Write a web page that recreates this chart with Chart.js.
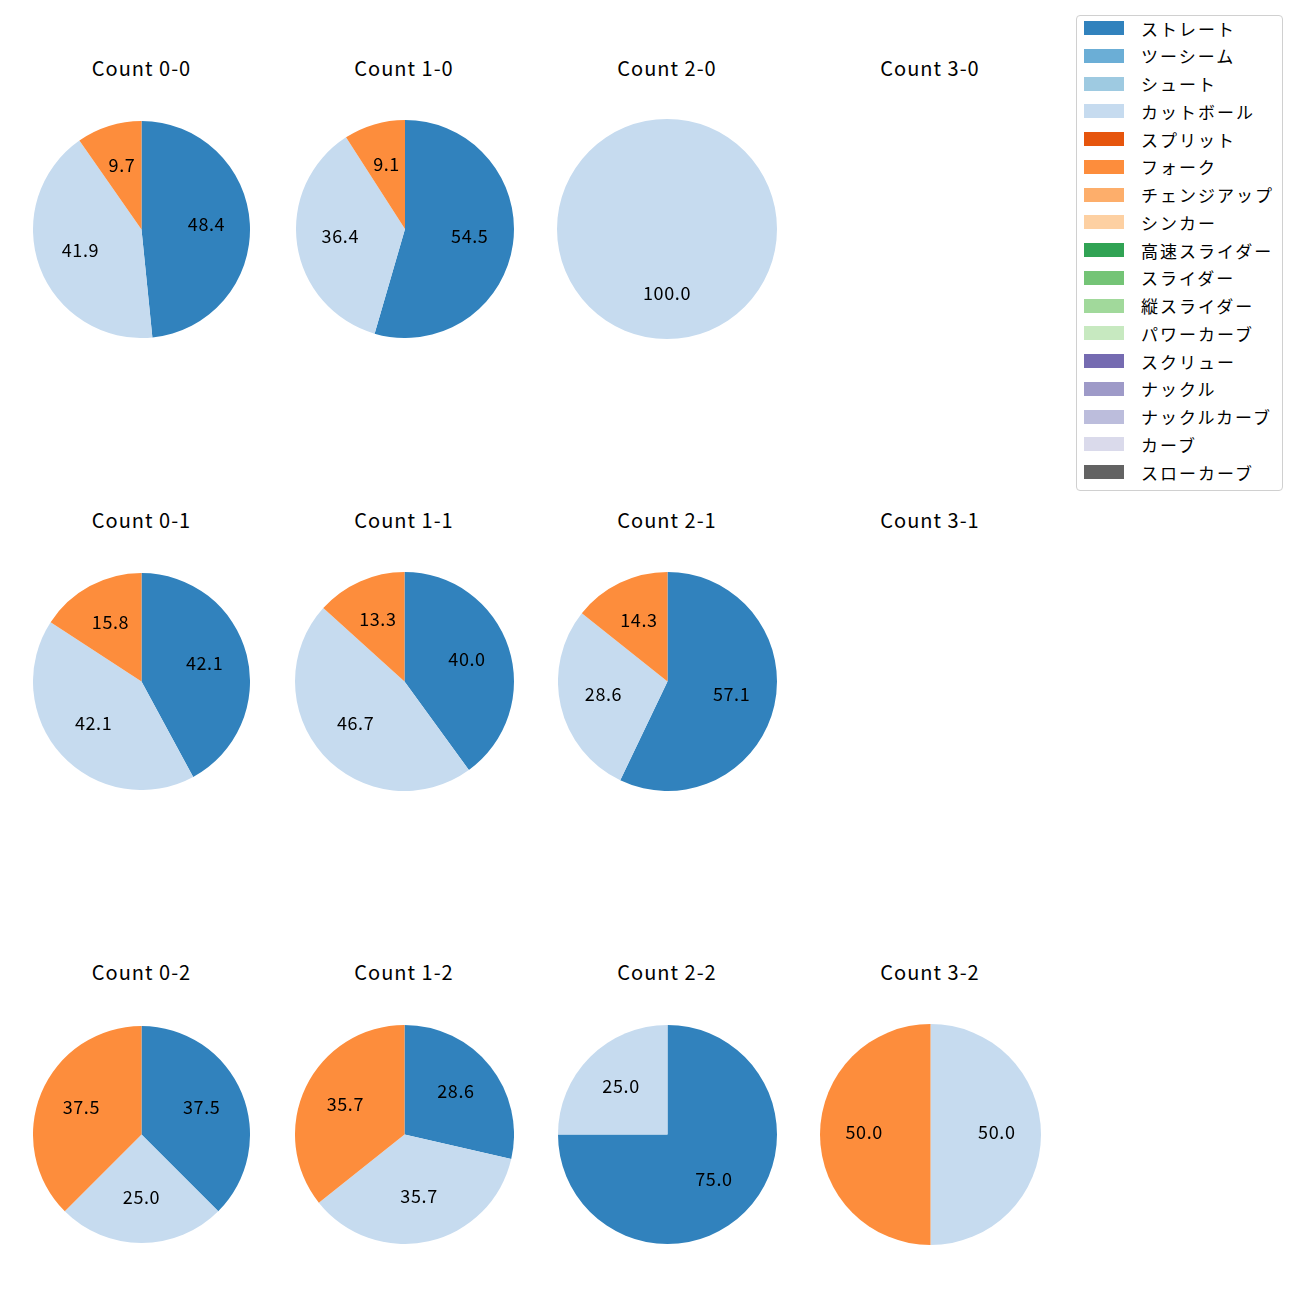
<!DOCTYPE html>
<html>
<head>
<meta charset="utf-8">
<script src="https://cdn.jsdelivr.net/npm/chart.js@4"></script>
<style>
  body { margin: 0; background: #fff; font-family: "Noto Sans CJK JP", "Noto Sans", sans-serif; }
  #stage { position: relative; width: 1300px; height: 1300px; }
  .ttl { position: absolute; font-size: 20px; letter-spacing: 1px; color: #000; transform: translate(-50%, -50%); white-space: nowrap; }
  canvas.pie { position: absolute; }
  #legend { position: absolute; left: 1076px; top: 15px; width: 205px; height: 474px; border: 1px solid #d0d0d0; border-radius: 4px; }
  .row { position: absolute; left: 7px; height: 20px; display: flex; align-items: center; }
  .sw { width: 40px; height: 14px; margin-right: 17px; }
  .lab { font-size: 17px; letter-spacing: 2px; color: #000; white-space: nowrap; }
</style>
</head>
<body>
<div id="stage"><div id="legend"></div></div>
<script>
// pitch types and colours (tab20c)
var pitchTypes = ['ストレート','ツーシーム','シュート','カットボール','スプリット','フォーク','チェンジアップ','シンカー',
  '高速スライダー','スライダー','縦スライダー','パワーカーブ','スクリュー','ナックル','ナックルカーブ','カーブ','スローカーブ'];
var pitchColors = ['#3182bd','#6baed6','#9ecae1','#c6dbef','#e6550d','#fd8d3c','#fdae6b','#fdd0a2',
  '#31a354','#74c476','#a1d99b','#c7e9c0','#756bb1','#9e9ac8','#bcbddc','#dadaeb','#636363'];

// counts, row by row
var countLabels = ['0-0','1-0','2-0','3-0','0-1','1-1','2-1','3-1','0-2','1-2','2-2','3-2'];

// percentages per count (null = no pitches)
var straight = [48.4, 54.5, 0, null, 42.1, 40.0, 57.1, null, 37.5, 28.6, 75.0, 0];
var cutball  = [41.9, 36.4, 100.0, null, 42.1, 46.7, 28.6, null, 25.0, 35.7, 25.0, 50.0];
var fork     = [9.7, 9.1, 0, null, 15.8, 13.3, 14.3, null, 37.5, 35.7, 0, 50.0];

// layout: pie centres / radii
var colX = [141.5, 404.5, 667, 930];
var rowY = [229, 681.5, 1134.5];
var titleX = [141.5, 404, 667, 930];
var titleY = [67, 519, 971];
var pieR = [108.5, 109, 110, 110, 108.5, 109.5, 109.5, 110, 108.5, 109.5, 109.5, 110.5];

var stage = document.getElementById('stage');

var pctLabels = {
  id: 'pctLabels',
  afterDatasetsDraw: function(chart) {
    var ctx = chart.ctx;
    var meta = chart.getDatasetMeta(0);
    var vals = chart.data.datasets[0].data;
    ctx.save();
    ctx.font = '18px "Noto Sans CJK JP", "Noto Sans", sans-serif';
    ctx.letterSpacing = '0.6px';
    ctx.fillStyle = '#000';
    ctx.textAlign = 'center';
    ctx.textBaseline = 'middle';
    meta.data.forEach(function(arc, i) {
      if (!vals[i]) return;
      var p = arc.getProps(['x','y','startAngle','endAngle','outerRadius'], true);
      var mid = (p.startAngle + p.endAngle) / 2;
      var r = p.outerRadius * 0.6;
      ctx.fillText(vals[i].toFixed(1), p.x + Math.cos(mid) * r, p.y + Math.sin(mid) * r - 2);
    });
    ctx.restore();
  }
};

countLabels.forEach(function(c, k) {
  var col = k % 4, row = Math.floor(k / 4);
  var t = document.createElement('div');
  t.className = 'ttl';
  t.textContent = 'Count ' + c;
  t.style.left = titleX[col] + 'px';
  t.style.top = titleY[row] + 'px';
  stage.appendChild(t);

  if (straight[k] === null) return;

  var data = pitchTypes.map(function() { return 0; });
  data[0] = straight[k];
  data[3] = cutball[k];
  data[5] = fork[k];

  var R = pieR[k];
  var cv = document.createElement('canvas');
  cv.className = 'pie';
  cv.width = Math.round(2 * R);
  cv.height = Math.round(2 * R);
  cv.style.left = (colX[col] - R) + 'px';
  cv.style.top = (rowY[row] - R) + 'px';
  stage.appendChild(cv);

  new Chart(cv.getContext('2d'), {
    type: 'pie',
    data: {
      labels: pitchTypes,
      datasets: [{ data: data, backgroundColor: pitchColors, borderWidth: 0 }]
    },
    options: {
      responsive: false,
      animation: false,
      layout: { padding: 0 },
      plugins: { legend: { display: false }, tooltip: { enabled: false } }
    },
    plugins: [pctLabels]
  });
});

// legend
var legend = document.getElementById('legend');
pitchTypes.forEach(function(name, i) {
  var row = document.createElement('div');
  row.className = 'row';
  row.style.top = (2 + 27.75 * i) + 'px';
  row.innerHTML = '<div class="sw" style="background:' + pitchColors[i] + '"></div><span class="lab">' + name + '</span>';
  legend.appendChild(row);
});
</script>
</body>
</html>
